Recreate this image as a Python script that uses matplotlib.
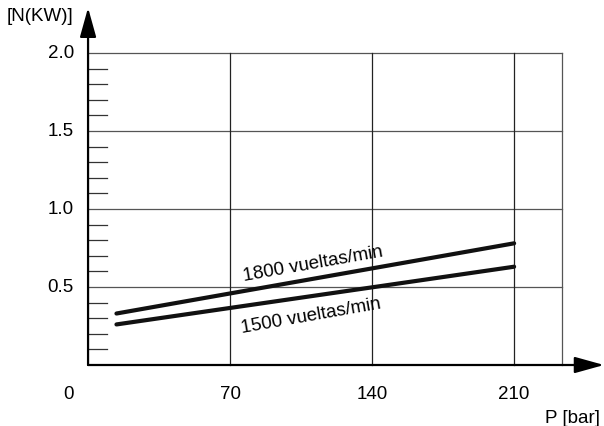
import matplotlib.pyplot as plt

plt.rcParams['font.family'] = ['Liberation Sans', 'DejaVu Sans']

# pressure [bar] and power [kW] at both speeds
pressure = [14, 210]
power_1800 = [0.33, 0.78]
power_1500 = [0.26, 0.63]

x_ticks = [0, 70, 140, 210]
y_ticks = [0.5, 1.0, 1.5, 2.0]
y_labels = ["0.5", "1.0", "1.5", "2.0"]
minor_y = [0.1, 0.2, 0.3, 0.4, 0.6, 0.7, 0.8, 0.9, 1.1, 1.2, 1.3, 1.4, 1.6, 1.7, 1.8, 1.9]
x_grid_end = 233.5

fig = plt.figure(figsize=(6.04, 4.27), dpi=100)
ax = fig.add_axes([0, 0, 1, 1])
ax.set_xlim(-43.4, 254.3)
ax.set_ylim(-0.391, 2.346)
ax.axis("off")

grid_col = "#555555"
# horizontal grid
for y in y_ticks:
    ax.plot([0, x_grid_end], [y, y], color=grid_col, lw=0.9, zorder=1)
# vertical grid
for x in x_ticks[1:] + [x_grid_end]:
    ax.plot([x, x], [0, 2.0], color=grid_col if x == x_grid_end else "#222222", lw=0.9, zorder=1)

# minor ticks on the y axis
for y in minor_y:
    ax.plot([0, 9.5], [y, y], color="#333333", lw=0.9, zorder=1)

# axes with arrowheads
ax.annotate("", xy=(254.3, 0), xytext=(0, 0),
            arrowprops=dict(arrowstyle="-|>,head_length=1.8,head_width=0.5",
                            color="black", lw=1.6, shrinkA=0, shrinkB=0))
ax.annotate("", xy=(0, 2.29), xytext=(0, 0),
            arrowprops=dict(arrowstyle="-|>,head_length=1.8,head_width=0.5",
                            color="black", lw=1.6, shrinkA=0, shrinkB=0))

# curves
ax.plot(pressure, power_1800, color="#111111", lw=3.0, solid_capstyle="round", zorder=3)
ax.plot(pressure, power_1500, color="#111111", lw=3.0, solid_capstyle="round", zorder=3)

fs = 13.5
ax.text(111, 0.65, "1800 vueltas/min", fontsize=fs, rotation=10, ha="center", va="center")
ax.text(110, 0.32, "1500 vueltas/min", fontsize=fs, rotation=10, ha="center", va="center")

# tick labels
for x in x_ticks:
    xp = -9.5 if x == 0 else x
    ax.text(xp, -0.18, str(x), fontsize=fs, ha="center", va="center")
for y, lab in zip(y_ticks, y_labels):
    ax.text(-7, y, lab, fontsize=fs, ha="right", va="center")

ax.text(-23.5, 2.24, "[N(KW)]", fontsize=fs, ha="center", va="center")
ax.text(239, -0.335, "P [bar]", fontsize=fs, ha="center", va="center")

fig.savefig("out.png", dpi=100)
